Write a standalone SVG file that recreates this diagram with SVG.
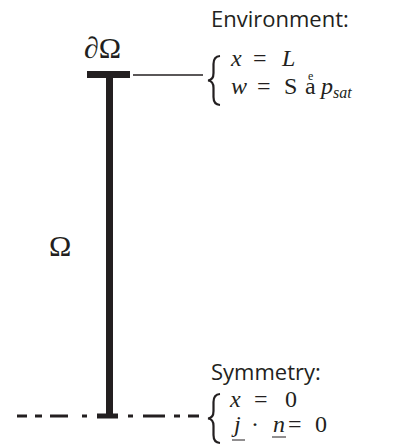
<svg xmlns="http://www.w3.org/2000/svg" width="404" height="445" viewBox="0 0 404 445">
<style>
.lbl{font-family:"Open Sans","Liberation Sans",sans-serif;font-size:22px;fill:#231f20}
.m{font-family:"Liberation Serif","DejaVu Serif",serif;font-size:24px;fill:#231f20}
.big{font-family:"Liberation Serif","DejaVu Serif",serif;font-size:30px;fill:#231f20}
.sup{font-size:12px;font-style:normal}
.i{font-style:italic}
.sub{font-size:16px;font-style:italic}
.brace{fill:none;stroke:#231f20;stroke-width:2.2}
</style>
<rect width="404" height="445" fill="#fff"/>
<g id="domain">
  <rect x="87" y="71" width="43" height="7" fill="#231f20"/>
  <rect x="106" y="71" width="7" height="345" fill="#231f20"/>
  <rect x="97" y="413.5" width="21" height="5" fill="#231f20"/>
  <text class="big" x="84" y="58">∂Ω</text>
  <text class="big" x="49" y="256">Ω</text>
</g>
<g id="connectors">
  <line x1="133" y1="75" x2="203" y2="75" stroke="#231f20" stroke-width="1.3"/>
  <g stroke="#231f20" stroke-width="3">
    <line x1="17" y1="416" x2="27" y2="416"/>
    <line x1="35" y1="416" x2="42" y2="416"/>
    <line x1="50" y1="416" x2="68" y2="416"/>
    <line x1="82" y1="416" x2="87" y2="416"/>
    <line x1="128" y1="416" x2="133" y2="416"/>
    <line x1="143" y1="416" x2="165" y2="416"/>
    <line x1="174" y1="416" x2="180" y2="416"/>
    <line x1="188" y1="416" x2="199" y2="416"/>
  </g>
</g>
<g id="environment">
  <text class="lbl" x="211" y="27">Environment:</text>
  <path class="brace" d="M220 56 Q213.5 56.5 213.5 64 L213.5 73 Q213.5 80 208 80.5 Q213.5 81 213.5 88 L213.5 97 Q213.5 104.5 220 105"/>
  <text class="m" y="66"><tspan class="i" x="231">x</tspan><tspan x="253">=</tspan><tspan class="i" x="282">L</tspan></text>
  <text class="m" y="94"><tspan class="i" x="231">w</tspan><tspan x="257">=</tspan><tspan x="284">S</tspan><tspan x="305">a</tspan><tspan class="sup" x="308" dy="-14">e</tspan><tspan class="i" x="321" dy="14">p</tspan><tspan class="sub" x="333" dy="4">sat</tspan></text>
</g>
<g id="symmetry">
  <text class="lbl" x="211" y="380">Symmetry:</text>
  <path class="brace" d="M220 394 Q213.5 394.5 213.5 402 L213.5 411 Q213.5 418 208 418.5 Q213.5 419 213.5 426 L213.5 435 Q213.5 442.5 220 443"/>
  <text class="m" y="407"><tspan class="i" x="230">x</tspan><tspan x="254">=</tspan><tspan x="285">0</tspan></text>
  <text class="m" y="432"><tspan class="i" x="234">j</tspan><tspan x="251">·</tspan><tspan class="i" x="273">n</tspan><tspan x="288">=</tspan><tspan x="315">0</tspan></text>
  <line x1="232" y1="440" x2="245" y2="440" stroke="#231f20" stroke-width="1"/>
  <line x1="272" y1="437" x2="286" y2="437" stroke="#231f20" stroke-width="1"/>
</g>
</svg>
